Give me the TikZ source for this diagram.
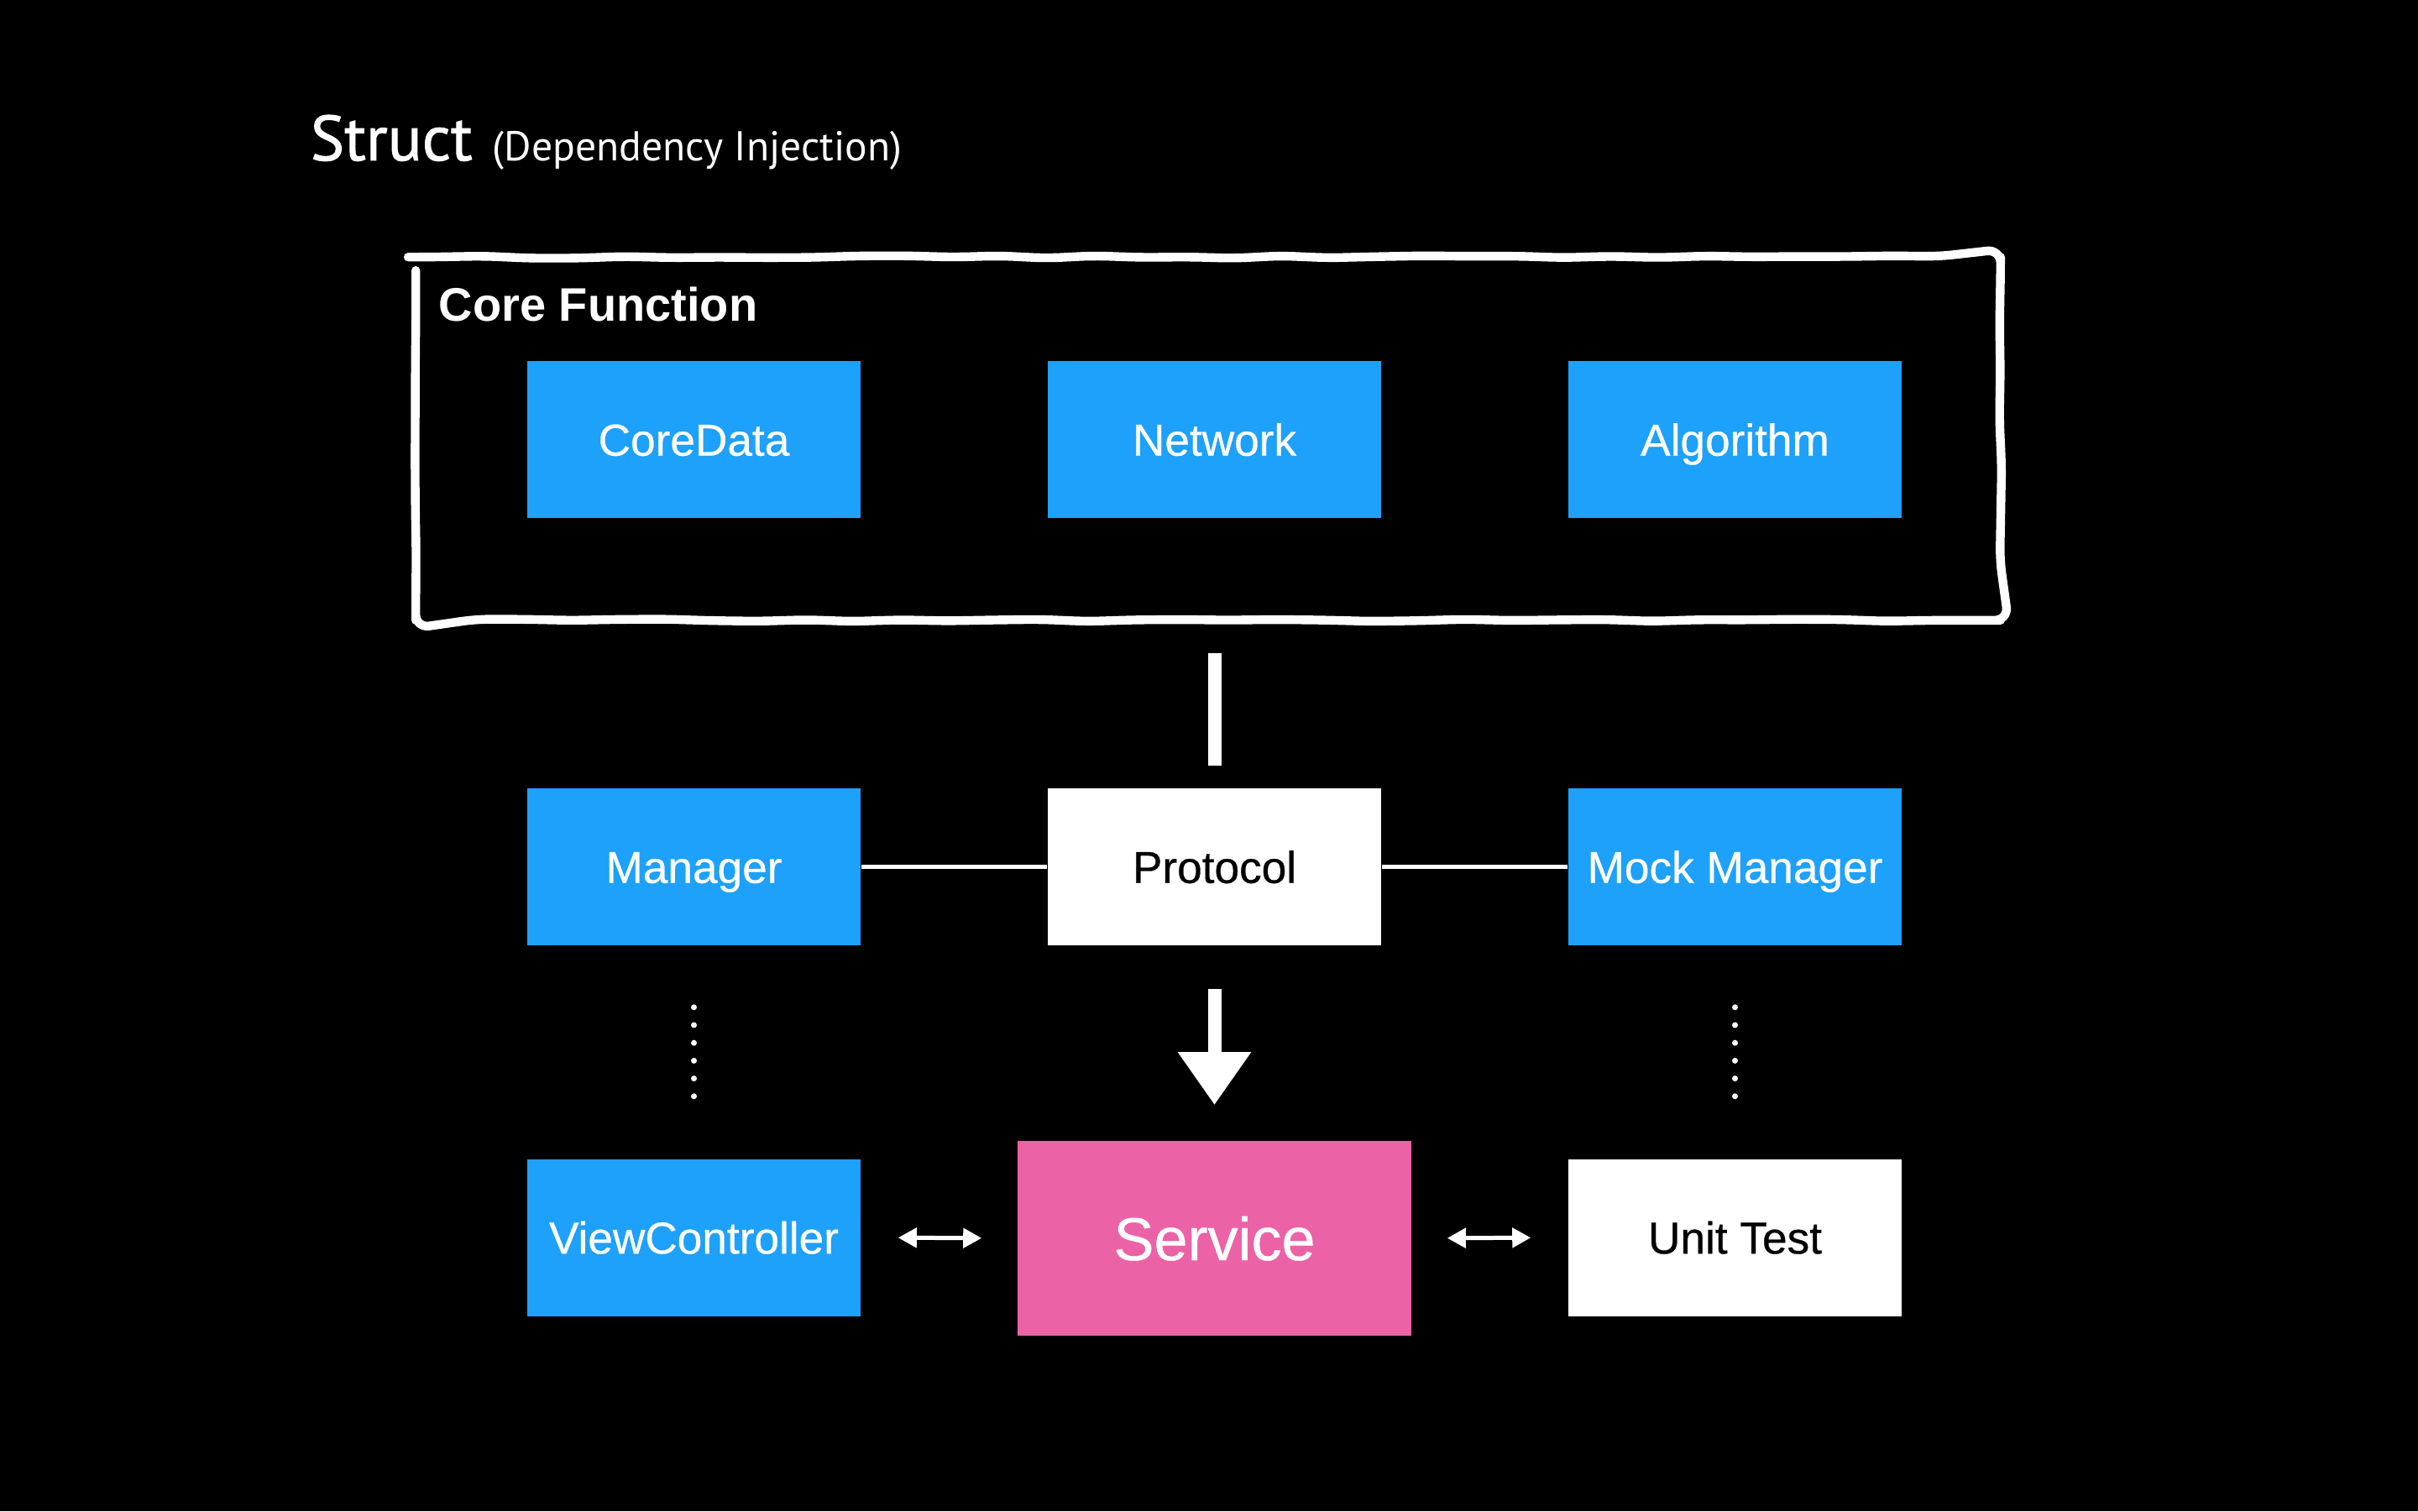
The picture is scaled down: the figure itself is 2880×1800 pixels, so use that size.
\documentclass[tikz,border=0pt]{standalone}
\usepackage{fontspec}
\setmainfont{Liberation Sans}
\newfontfamily\boxfont[FakeBold=0.5]{Liberation Sans}
\newfontfamily\titlefont{PT Sans}
\newfontfamily\titleheavy[FakeBold=1.2]{PT Sans}
\usepackage{xcolor}
\definecolor{BoxBlue}{RGB}{29,161,250}
\definecolor{BoxPink}{RGB}{236,98,166}
\usetikzlibrary{arrows.meta}
\usetikzlibrary{decorations.pathmorphing}
\tikzstyle{Box}=[rectangle,fill=BoxBlue,text=white,minimum width=99.25pt,
minimum height=46.75pt,inner sep=0pt,text height=9.6pt,text depth=0pt,
font=\boxfont\fontsize{13.3}{16}\selectfont]
\tikzstyle{WhiteBox}=[Box,fill=white,text=black]
\tikzstyle{ServiceBox}=[Box,fill=BoxPink,minimum width=117.25pt,
minimum height=58pt,text height=13pt,font=\boxfont\fontsize{18}{22}\selectfont]
\tikzstyle{Frame}=[draw=white,line width=2.6pt,line cap=round,line join=round,
decorate,decoration={random steps,segment length=14pt,amplitude=0.4pt},
rounded corners=4pt]
\tikzstyle{Chalk}=[draw=white,line width=4pt]
\tikzstyle{Thread}=[draw=white,line width=1.3pt]
\tikzstyle{Dots}=[draw=white,line width=1.75pt,line cap=round,
dash pattern=on 0pt off 5.3pt]
\tikzstyle{Swap}=[draw=white,line width=1.25pt,
{Triangle[length=5.5pt,width=5.75pt]}-{Triangle[length=5.5pt,width=5.75pt]}]

\begin{document}
\begin{tikzpicture}[x=0.25pt,y=-0.25pt]
        \pgfmathsetseed{11}
        \fill[black](0,0)rectangle(2880,1800);
        \useasboundingbox(0,0)rectangle(2880,1800);
        % title
        \node[anchor=base west,text=white,inner sep=0pt](title)
            at(369,191){{\titleheavy\fontsize{19}{23}\selectfont Struct}\hspace{6pt}%
            {\titlefont\fontsize{12.4}{15}\selectfont (Dependency Injection)}};
        % core function frame
        \node[minimum width=471.5pt,minimum height=107.75pt,inner sep=0pt](core)
            at(1439,522.5){};
        \draw[Frame](core.north west)rectangle(core.south east);
        \node[anchor=base west,text=white,inner sep=0pt,
            font=\bfseries\fontsize{14}{17}\selectfont](corelabel)
            at(522,382){Core Function};
        \node[Box](coredata)at(826.5,523.5){CoreData};
        \node[Box](network)at(1446.5,523.5){Network};
        \node[Box](algorithm)at(2066.5,523.5){Algorithm};
        % middle row
        \node[Box](manager)at(826.5,1032.5){Manager};
        \node[WhiteBox](protocol)at(1446.5,1032.5){Protocol};
        \node[Box](mock)at(2066.5,1032.5){Mock Manager};
        % bottom row
        \node[Box](view)at(826.5,1474){ViewController};
        \node[ServiceBox](service)at(1446.5,1475){Service};
        \node[WhiteBox](unit)at(2066.5,1474){Unit Test};
        % connectors
        \draw[Chalk,shorten <=9.75pt,shorten >=6.5pt]
            (core.south -| protocol.north)--(protocol.north);
        \draw[Chalk,-{Triangle[length=15.75pt,width=20.75pt]},
            shorten <=12.75pt,shorten >=10.5pt](protocol.south)--(service.north);
        \draw[Thread](manager.east)--(protocol.west);
        \draw[Thread](protocol.east)--(mock.west);
        \draw[Dots,shorten <=18.25pt,shorten >=17pt](manager.south)--(view.north);
        \draw[Dots,shorten <=18.25pt,shorten >=17pt](mock.south)--(unit.north);
        \draw[Swap,shorten <=11pt,shorten >=10.5pt](view.east)--(service.west);
        \draw[Swap,shorten <=10.5pt,shorten >=11pt](service.east)--(unit.west);
    \end{tikzpicture}
\end{document}
